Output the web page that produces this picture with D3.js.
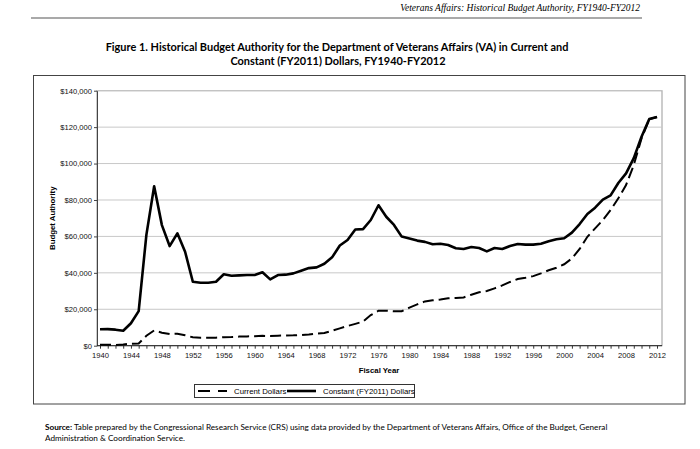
<!DOCTYPE html>
<html><head><meta charset="utf-8">
<script src="https://cdn.jsdelivr.net/npm/d3@7"></script>
<style>body{margin:0;background:#fff}svg{display:block}</style>
</head><body>
<svg id="c" width="700" height="449"></svg>
<script>
const years = d3.range(1940, 2013);
const constantDollars = [9000,9100,8800,8200,12300,19000,61000,87500,66200,54700,61700,51600,35100,34600,34600,35100,39200,38400,38600,38800,38800,40300,36400,38800,39000,39700,41200,42600,43000,45000,48500,55000,58000,63800,64000,69000,77100,70800,66300,59900,58800,57700,57000,55700,56000,55300,53500,53100,54200,53600,51800,53600,53100,54700,55800,55500,55500,56000,57300,58400,59000,62100,66800,72300,75800,80200,82500,89300,94600,103000,114700,124400,125600];
const currentDollars = [500,500,400,700,1100,1200,5500,8400,7100,6400,6600,5700,4600,4400,4400,4400,4700,4800,5000,5100,5200,5400,5300,5500,5600,5700,5900,6200,6700,7000,8200,9500,10800,12000,13200,16800,19200,19200,18900,18900,20900,22700,24300,24900,25400,26000,26200,26500,28000,29300,30000,31500,33100,35000,36600,37300,38200,39700,41400,42800,44700,47900,53100,59800,64400,69000,74500,80900,88200,99200,113800,124400,125600];
const yTicks = [0,20000,40000,60000,80000,100000,120000,140000];
const xLabelYears = d3.range(1940, 2013, 4);
const seriesNames = ["Current Dollars","Constant (FY2011) Dollars"];

const svg = d3.select("#c");
const L=97, R=662, T=90.7, B=345.7;
const x = d3.scaleLinear().domain([1940,2012]).range([100,657]);
const y = d3.scaleLinear().domain([0,140000]).range([B,T]);

// header
svg.append("text").attr("x",640).attr("y",11).attr("text-anchor","end")
  .attr("font-family","Liberation Serif, serif").attr("font-style","italic").attr("font-size",9.5)
  .text("Veterans Affairs: Historical Budget Authority, FY1940-FY2012");
svg.append("line").attr("x1",31).attr("x2",642).attr("y1",18).attr("y2",18).attr("stroke","#555").attr("stroke-width",1.2);

// title
const tf="Lato, 'Open Sans', sans-serif";
svg.append("text").attr("x",337).attr("y",51).attr("text-anchor","middle").attr("font-family",tf).attr("font-weight","bold").attr("font-size",10.95)
  .text("Figure 1. Historical Budget Authority for the Department of Veterans Affairs (VA) in Current and");
svg.append("text").attr("x",338).attr("y",65).attr("text-anchor","middle").attr("font-family",tf).attr("font-weight","bold").attr("font-size",10.95)
  .text("Constant (FY2011) Dollars, FY1940-FY2012");

// outer box
svg.append("rect").attr("x",33.5).attr("y",75.5).attr("width",651.5).attr("height",328.5).attr("fill","none").attr("stroke","#444").attr("stroke-width",1);

// plot border
svg.append("rect").attr("x",L).attr("y",T).attr("width",R-L).attr("height",B-T).attr("fill","none").attr("stroke","#999").attr("stroke-width",1);
// gridlines
svg.append("g").selectAll("line").data(yTicks.filter(d=>d>0)).join("line")
  .attr("x1",L).attr("x2",R).attr("y1",d=>y(d)).attr("y2",d=>y(d)).attr("stroke","#c8c8c8").attr("stroke-width",1);

const af="Liberation Sans, Arial, sans-serif";
// y axis
const ya = svg.append("g").attr("transform",`translate(${L},0)`)
  .call(d3.axisLeft(y).tickValues(yTicks).tickSize(3).tickSizeOuter(0).tickPadding(2).tickFormat(d=>"$"+d3.format(",")(d)));
ya.select(".domain").attr("stroke","#444");
ya.selectAll("text").attr("font-family",af).attr("font-size",7.6).attr("fill","#111");
ya.selectAll(".tick line").attr("stroke","#444");

// x axis
const xa = svg.append("g").attr("transform",`translate(0,${B})`)
  .call(d3.axisBottom(x).tickValues(years).tickSize(3).tickSizeOuter(0).tickPadding(4).tickFormat(d=>xLabelYears.includes(d)?String(d):""));
xa.select(".domain").attr("stroke","#222").attr("d",`M${L},0H${R}`);
xa.selectAll("text").attr("font-family",af).attr("font-size",7.6).attr("fill","#111");
xa.selectAll(".tick line").attr("stroke","#333");

// axis titles
svg.append("text").attr("transform",`translate(55,${(T+B)/2}) rotate(-90)`).attr("text-anchor","middle")
  .attr("font-family",af).attr("font-weight","bold").attr("font-size",7.8).text("Budget Authority");
svg.append("text").attr("x",379).attr("y",373).attr("text-anchor","middle")
  .attr("font-family",af).attr("font-weight","bold").attr("font-size",7.8).text("Fiscal Year");

// lines
const line = d3.line().x((d,i)=>x(years[i])).y(d=>y(d));
svg.append("path").datum(currentDollars).attr("d",line).attr("fill","none").attr("stroke","#000").attr("stroke-width",2).attr("stroke-dasharray","11,5");
svg.append("path").datum(constantDollars).attr("d",line).attr("fill","none").attr("stroke","#000").attr("stroke-width",2.6).attr("stroke-linejoin","round");

// legend
const lg = svg.append("g");
lg.append("rect").attr("x",194.5).attr("y",384.5).attr("width",220).attr("height",13).attr("fill","#fff").attr("stroke","#333").attr("stroke-width",1);
lg.append("line").attr("x1",198).attr("x2",227).attr("y1",391).attr("y2",391).attr("stroke","#000").attr("stroke-width",2).attr("stroke-dasharray","12,8");
lg.append("text").attr("x",234).attr("y",394).attr("font-family",af).attr("font-size",7.8).text(seriesNames[0]);
lg.append("line").attr("x1",287).attr("x2",316).attr("y1",391).attr("y2",391).attr("stroke","#000").attr("stroke-width",2.6);
lg.append("text").attr("x",323).attr("y",394).attr("font-family",af).attr("font-size",7.8).text(seriesNames[1]);

// source
const sf="Lato, 'Open Sans', sans-serif";
const s1 = svg.append("text").attr("x",45).attr("y",430).attr("font-family",sf).attr("font-size",8.2);
s1.append("tspan").attr("font-weight","bold").text("Source:");
s1.append("tspan").text(" Table prepared by the Congressional Research Service (CRS) using data provided by the Department of Veterans Affairs, Office of the Budget, General");
svg.append("text").attr("x",45).attr("y",441).attr("font-family",sf).attr("font-size",8.2).text("Administration & Coordination Service.");
</script>
</body></html>
